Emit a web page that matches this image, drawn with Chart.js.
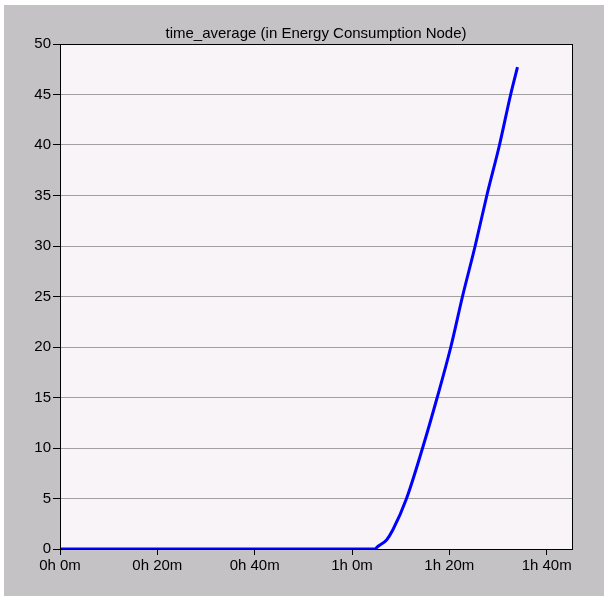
<!DOCTYPE html>
<html>
<head>
<meta charset="utf-8">
<script src="https://cdn.jsdelivr.net/npm/chart.js@4/dist/chart.umd.min.js"></script>
<style>
  html, body { margin: 0; padding: 0; background: #ffffff; }
  #wrap { position: absolute; left: 4px; top: 5px; width: 600px; height: 591px; background: #c4c2c4; }
</style>
</head>
<body>
<div id="wrap"><canvas id="grafico" width="600" height="591"></canvas></div>
<script>
// time in minutes, time_average value
let tempos = [0, 20, 40, 60, 64.7, 65.3, 67.1, 68.4, 71.2, 74.5, 77.5, 80.3, 82.7, 85.3, 87.7, 90.3, 92.6, 94.0];
let valores = [0, 0, 0, 0, 0, 0.25, 0.9, 1.9, 5, 10, 15, 20, 25, 30, 35, 40, 45, 47.7];
let titulo = 'time_average (in Energy Consumption Node)';

function formatarTempo(min) {
    let h = Math.floor(min / 60);
    let m = Math.round(min % 60);
    return h + 'h ' + m + 'm';
}

let pontos = [];
for (let i = 0; i < tempos.length; i++) {
    pontos.push({ x: tempos[i], y: valores[i] });
}

const fundoArea = {
    id: 'fundoArea',
    afterLayout(chart) {
        // title centered over the plot area, not the whole canvas
        if (chart.titleBlock) {
            chart.titleBlock.left = chart.chartArea.left;
            chart.titleBlock.right = chart.chartArea.right;
            chart.titleBlock.width = chart.chartArea.right - chart.chartArea.left;
        }
    },
    beforeDraw(chart) {
        const a = chart.chartArea;
        const c = chart.ctx;
        c.save();
        c.fillStyle = '#f8f4f8';
        c.fillRect(a.left, a.top, a.right - a.left, a.bottom - a.top);
        c.restore();
    },
    afterDraw(chart) {
        const a = chart.chartArea;
        const c = chart.ctx;
        c.save();
        c.strokeStyle = '#000000';
        c.lineWidth = 1;
        c.strokeRect(Math.round(a.left) + 0.5, Math.round(a.top) + 0.5, Math.round(a.right - a.left), Math.round(a.bottom - a.top));
        c.restore();
    }
};

var ctx = document.getElementById('grafico').getContext('2d');
var meuGrafico = new Chart(ctx, {
    type: 'line',
    data: {
        datasets: [{
            label: titulo,
            data: pontos,
            borderColor: '#0000ff',
            borderWidth: 3,
            pointRadius: 0,
            fill: false,
            cubicInterpolationMode: 'monotone'
        }]
    },
    options: {
        responsive: false,
        animation: false,
        layout: { padding: { left: 0, right: 32, top: 0, bottom: 0 } },
        plugins: {
            legend: { display: false },
            tooltip: { enabled: false },
            title: {
                display: true,
                text: titulo,
                color: '#000000',
                font: { family: 'Liberation Sans', size: 15, weight: 'normal', lineHeight: 1.2 },
                padding: { top: 19.5, bottom: 1.5 }
            }
        },
        scales: {
            x: {
                type: 'linear',
                min: 0,
                max: 105.2,
                afterFit(scale) { scale.height = 47; },
                grid: { drawOnChartArea: false, drawTicks: true, tickLength: 6, tickColor: '#000000' },
                border: { color: '#000000' },
                ticks: {
                    stepSize: 20,
                    includeBounds: false,
                    maxRotation: 0,
                    autoSkip: false,
                    padding: 2,
                    color: '#000000',
                    font: { family: 'Liberation Sans', size: 15 },
                    callback: function (v) { return formatarTempo(v); }
                }
            },
            y: {
                min: 0,
                max: 50,
                afterFit(scale) { scale.width = 56; },
                grid: { color: '#a0a0a0', lineWidth: 1, tickLength: 7, tickColor: '#000000' },
                border: { color: '#000000' },
                ticks: {
                    stepSize: 5,
                    padding: 2,
                    color: '#000000',
                    font: { family: 'Liberation Sans', size: 15 }
                }
            }
        }
    },
    plugins: [fundoArea]
});
</script>
</body>
</html>
